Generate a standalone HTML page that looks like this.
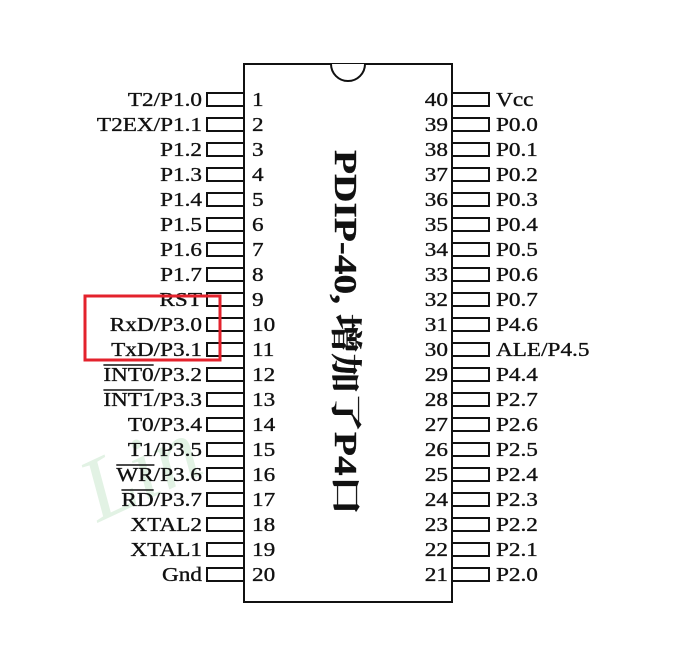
<!DOCTYPE html>
<html><head><meta charset="utf-8"><style>
html,body{margin:0;padding:0;background:#fff;width:699px;height:651px;overflow:hidden}
svg{display:block}
text{font-family:"Liberation Serif","Noto Serif CJK SC",serif;fill:#111;stroke:#111;stroke-width:0.35}
</style></head><body>
<svg id="chip" width="699" height="651" viewBox="0 0 699 651">
<text x="80" y="500" transform="rotate(-25 140 470)" style="font-size:90px;fill:#e2f2e4;stroke:none;font-style:italic">Lin</text>
<rect x="244" y="64" width="208" height="538" fill="none" stroke="#111" stroke-width="2"/>
<path d="M331 64 A17 17 0 0 0 365 64" fill="#fff" stroke="#111" stroke-width="2"/>
<text transform="translate(335 150) rotate(90)" textLength="365" lengthAdjust="spacingAndGlyphs" style="font-size:32px;font-weight:bold">PDIP-40, 增加了P4口</text>
<g id="pins"></g>
<rect x="85" y="296" width="135" height="64" fill="none" stroke="#e3222c" stroke-width="3"/>
</svg>
<script>
const leftLabels=["T2/P1.0","T2EX/P1.1","P1.2","P1.3","P1.4","P1.5","P1.6","P1.7","RST","RxD/P3.0","TxD/P3.1","INT0/P3.2","INT1/P3.3","T0/P3.4","T1/P3.5","WR/P3.6","RD/P3.7","XTAL2","XTAL1","Gnd"];
const rightLabels=["Vcc","P0.0","P0.1","P0.2","P0.3","P0.4","P0.5","P0.6","P0.7","P4.6","ALE/P4.5","P4.4","P2.7","P2.6","P2.5","P2.4","P2.3","P2.2","P2.1","P2.0"];
const overbar={"INT0/P3.2":4,"INT1/P3.3":4,"WR/P3.6":2,"RD/P3.7":2};
const g=document.getElementById('pins');
const NS="http://www.w3.org/2000/svg";
const FS=20, SX=1.16;
function mk(t,a){const e=document.createElementNS(NS,t);for(const k in a)e.setAttribute(k,a[k]);return e;}
function y(i){return 99+i*25;}
function measure(s){const tmp=mk('text',{x:0,y:-100,'font-size':FS});tmp.textContent=s;g.appendChild(tmp);const w=tmp.getBBox().width;g.removeChild(tmp);return w;}
function label(s,xAnchor,yy,anchorEnd,name){
  const w=measure(s)*SX;
  const x=anchorEnd?xAnchor-w:xAnchor;
  const t=mk('text',{x:x,y:yy,'font-size':FS,textLength:w,lengthAdjust:'spacingAndGlyphs'});
  t.textContent=s;
  
  
  g.appendChild(t);
  return x;
}
leftLabels.forEach((lab,i)=>{
  const r=mk('rect',{x:207,y:y(i)-6,width:37,height:13,fill:'#fff',stroke:'#111','stroke-width':2});
  
  
  g.appendChild(r);
  const x0=label(lab,202,y(i)+7,true,'pin-label-'+(i+1));
  if(overbar[lab]){
    const w=measure(lab.slice(0,overbar[lab]))*SX;
    const l=mk('line',{x1:x0,x2:x0+w,y1:y(i)-9,y2:y(i)-9,stroke:'#111','stroke-width':1.4});
    
    
    g.appendChild(l);
  }
  label(String(i+1),252,y(i)+7,false,'pin-number-'+(i+1));
});
rightLabels.forEach((lab,i)=>{
  const num=40-i;
  const r=mk('rect',{x:452,y:y(i)-6,width:37,height:13,fill:'#fff',stroke:'#111','stroke-width':2});
  
  
  g.appendChild(r);
  label(lab,496,y(i)+7,false,'pin-label-'+num);
  label(String(num),448,y(i)+7,true,'pin-number-'+num);
});
</script>
</body></html>
